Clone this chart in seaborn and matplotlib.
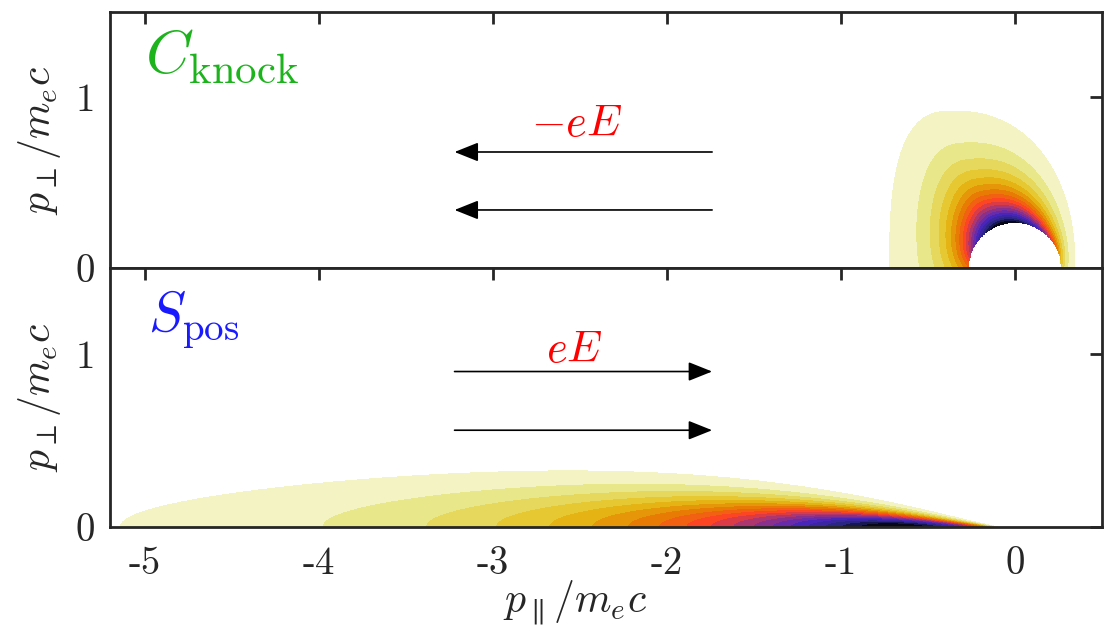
import numpy as np
import matplotlib
matplotlib.use("Agg")
import matplotlib.pyplot as plt
import seaborn as sns

# ---------------- data ----------------
x_ticks = [-5, -4, -3, -2, -1, 0]
x_tick_labels = ["-5", "-4", "-3", "-2", "-1", "0"]
y_ticks = [0, 1]
y_tick_labels = ["0", "1"]
x_limits = [-5.2, 0.5]
y_limits = [0.0, 1.5]

# contour levels (normalised source strength)
levels = list(np.linspace(0.035, 1.0, 19))
levels[-1] = 1.0001

# knock-on source: hole radius, outer-contour shape, angular strength
knock_hole_radius = 0.265
knock_outer_center_x = -0.35
knock_outer_left_halfwidth = 0.37
knock_outer_right_halfwidth = 0.695
knock_outer_height = 0.92
knock_outer_left_power = 2.8
knock_outer_right_power = 2.2
knock_peak_angle = 1.80      # rad
knock_angle_width = 1.40

# positron source parameters
pos_peak_x = -0.6
pos_decay_len = 1.25
pos_peak_round = 0.3
pos_edge_x = -0.09
pos_edge_w = 0.18
pos_sigma_max = 0.28
pos_sigma_len = 2.2

arrows_top_y = [0.68, 0.34]
arrows_bot_y = [0.90, 0.56]
arrow_x = [-1.74, -3.22]

# ---------------- style ----------------
sns.set_style("white")
plt.rcParams.update({
    "font.family": ["cmr10", "DejaVu Serif"],
    "mathtext.fontset": "cm",
    "axes.unicode_minus": False,
    "axes.formatter.use_mathtext": True,
})
spine_col = "#262626"

# ---------------- fields ----------------
xg = np.linspace(x_limits[0], x_limits[1], 1400)
yg = np.linspace(y_limits[0], y_limits[1], 500)
X, Y = np.meshgrid(xg, yg)

# knock-on: outer contour radius along each ray from the origin
th1 = np.linspace(0, np.pi, 1441)
lo = np.full_like(th1, knock_hole_radius)
hi = np.full_like(th1, 3.0)
for _ in range(60):
    mid = 0.5 * (lo + hi)
    dx = mid * np.cos(th1) - knock_outer_center_x
    dy = mid * np.sin(th1)
    n = np.where(dx < 0, knock_outer_left_power, knock_outer_right_power)
    a = np.where(dx < 0, knock_outer_left_halfwidth, knock_outer_right_halfwidth)
    h = (np.abs(dx) / a) ** n + (dy / knock_outer_height) ** n
    inside = h < 1
    lo = np.where(inside, mid, lo)
    hi = np.where(inside, hi, mid)
R = np.hypot(X, Y)
TH = np.arctan2(Y, X)
Rout = np.interp(TH, th1, lo)
g = np.exp(-((TH - knock_peak_angle) / knock_angle_width) ** 2)
s = (R - knock_hole_radius) / (Rout - knock_hole_radius)
F_knock = g * np.exp(-s * np.log(g / levels[0]))
F_knock[R < knock_hole_radius] = np.nan
F_knock = F_knock / np.nanmax(F_knock)

# positron source
d = X - pos_peak_x
A = np.exp(-(np.sqrt(d ** 2 + pos_peak_round ** 2) - pos_peak_round) / pos_decay_len) * np.clip(
    1 - np.exp((X - pos_edge_x) / pos_edge_w), 0, None)
sig = np.clip(pos_sigma_max * np.tanh((pos_edge_x - X) / pos_sigma_len), 0.004, None)
F_pos = A * np.exp(-(Y / sig) ** 2)
F_pos = F_pos / F_pos.max()

# ---------------- figure ----------------
fig = plt.figure(figsize=(11.14, 6.41), dpi=100)
ax1 = fig.add_axes([0.0987, 0.582, 0.8905, 0.399])
ax2 = fig.add_axes([0.0987, 0.178, 0.8905, 0.404])

for ax, F in ((ax1, F_knock), (ax2, F_pos)):
    ax.contourf(X, Y, F, levels=levels, cmap="CMRmap_r", vmin=0, vmax=1)
    ax.set_xlim(*x_limits)
    ax.set_ylim(*y_limits)
    ax.set_xticks(x_ticks)
    ax.set_yticks(y_ticks)
    ax.set_yticklabels(y_tick_labels)
    for sp in ax.spines.values():
        sp.set_color(spine_col)
        sp.set_linewidth(2.0)
    ax.tick_params(direction="in", length=8.5, width=2.0, color=spine_col,
                   top=True, right=True, labelsize=28, pad=11, labelcolor="#262626")
    ax.set_ylabel(r"$p_\perp/m_ec$", fontsize=30, color="#262626")
    ax.yaxis.set_label_coords(-0.047, 0.5)

ax1.set_xticklabels([])
ax2.set_xticklabels(x_tick_labels)
ax2.tick_params(axis="x", pad=14)
ax2.set_xlabel(r"$p_\parallel/m_ec$", fontsize=30, color="#262626")
ax2.xaxis.set_label_coords(0.469, -0.2)

# arrows
arrow_style = "-|>,head_length=1.05,head_width=0.42"
for yy in arrows_top_y:
    ax1.annotate("", xy=(arrow_x[1], yy), xytext=(arrow_x[0], yy),
                 arrowprops=dict(arrowstyle=arrow_style, color="black", lw=1.2,
                                 mutation_scale=14, shrinkA=0, shrinkB=0))
for yy in arrows_bot_y:
    ax2.annotate("", xy=(arrow_x[0], yy), xytext=(arrow_x[1], yy),
                 arrowprops=dict(arrowstyle=arrow_style, color="black", lw=1.2,
                                 mutation_scale=14, shrinkA=0, shrinkB=0))

ax1.text(-2.52, 0.84, r"$-eE$", color="#ff0000", fontsize=32, ha="center", va="center")
ax2.text(-2.53, 1.02, r"$eE$", color="#ff0000", fontsize=32, ha="center", va="center")
ax1.text(-5.0, 1.24, r"$C_{\mathrm{knock}}$", color="#1db31d", fontsize=44, ha="left", va="center")
ax2.text(-4.98, 1.2, r"$S_{\mathrm{pos}}$", color="#1a1aff", fontsize=40, ha="left", va="center")

fig.savefig("out.png", dpi=100)
